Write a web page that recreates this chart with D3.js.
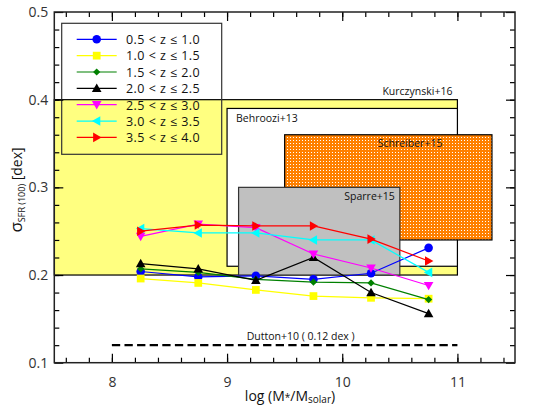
<!DOCTYPE html>
<html><head><meta charset="utf-8">
<script src="https://cdn.jsdelivr.net/npm/d3@7"></script>
<style>body{margin:0;background:#fff;} svg{display:block;font-family:"Open Sans",sans-serif;}</style>
</head><body><svg id="c" width="556" height="418"></svg>
<script>
// ---- data ----
const masses = [8.25, 8.75, 9.25, 9.75, 10.25, 10.75];
const seriesNames = ["0.5 < z \u2264 1.0","1.0 < z \u2264 1.5","1.5 < z \u2264 2.0","2.0 < z \u2264 2.5","2.5 < z \u2264 3.0","3.0 < z \u2264 3.5","3.5 < z \u2264 4.0"];
const z05_10 = [0.204, 0.198, 0.199, 0.195, 0.202, 0.231];
const z10_15 = [0.196, 0.191, 0.183, 0.176, 0.174, 0.173];
const z15_20 = [0.207, 0.203, 0.195, 0.192, 0.191, 0.172];
const z20_25 = [0.213, 0.207, 0.194, 0.220, 0.180, 0.156];
const z25_30 = [0.244, 0.258, 0.254, 0.224, 0.208, 0.188];
const z30_35 = [0.253, 0.248, 0.248, 0.240, 0.240, 0.203];
const z35_40 = [0.250, 0.257, 0.256, 0.256, 0.241, 0.216];
const seriesValues = [z05_10, z10_15, z15_20, z20_25, z25_30, z30_35, z35_40];
const seriesColors = ["#0000ff","#ffff00","#008000","#000000","#ff00ff","#00ffff","#ff0000"];
const seriesMarkers = ["circle","square","diamond","up","down","left","right"];

const boxNames = ["Kurczynski+16","Behroozi+13","Schreiber+15","Sparre+15"];
const boxXmin = [7.5, 9.0, 9.5, 9.1];
const boxXmax = [11.0, 11.0, 11.3, 10.5];
const boxYmin = [0.20, 0.21, 0.24, 0.20];
const boxYmax = [0.40, 0.39, 0.36, 0.30];

const duttonName = "Dutton+10 ( 0.12 dex )";
const duttonValue = 0.12;
const duttonRange = [8, 11];

const xMajorTicks = [8, 9, 10, 11];
const yMajorTicks = [0.1, 0.2, 0.3, 0.4, 0.5];

// ---- layout ----
const L = 54.3, R = 515, T = 12, B = 362.7;
const x = d3.scaleLinear().domain([7.5, 11.5]).range([L, R]);
const y = d3.scaleLinear().domain([0.1, 0.5]).range([B, T]);
const svg = d3.select("#c");

// pattern for Schreiber
const defs = svg.append("defs");
const pat = defs.append("pattern").attr("id","dots").attr("patternUnits","userSpaceOnUse")
  .attr("width",3).attr("height",3);
pat.append("rect").attr("x",0).attr("y",0).attr("width",3).attr("height",2).attr("fill","#ff8000");
pat.append("rect").attr("x",0).attr("y",2).attr("width",2).attr("height",1).attr("fill","#ff8000");

const boxFills = ["#ffff80","#ffffff","url(#dots)","#c0c0c0"];
const boxStroke = ["#000","#000","#000","#333"];
const g = svg.append("g");
boxNames.forEach((n,i)=>{
  g.append("rect")
    .attr("x", x(boxXmin[i])).attr("y", y(boxYmax[i]))
    .attr("width", x(boxXmax[i]) - x(boxXmin[i]))
    .attr("height", y(boxYmin[i]) - y(boxYmax[i]))
    .attr("fill", boxFills[i]).attr("stroke", boxStroke[i]).attr("stroke-width", 1.2);
});
// box labels
const lab = (t, xx, yy, anchor) => g.append("text").attr("x",xx).attr("y",yy)
  .attr("text-anchor",anchor).attr("font-size",10.5).attr("fill","#111").text(t);
lab(boxNames[0], x(boxXmax[0]) - 5, y(boxYmax[0]) - 5, "end");
lab(boxNames[1], x(boxXmin[1]) + 9, y(boxYmax[1]) + 14, "start");
lab(boxNames[2], x(boxXmax[1]) - 15, y(boxYmax[2]) + 12, "end");
lab(boxNames[3], x(boxXmax[3]) - 5, y(boxYmax[3]) + 13, "end");

// Dutton line
g.append("line").attr("x1", x(duttonRange[0])).attr("x2", x(duttonRange[1]))
  .attr("y1", y(duttonValue)).attr("y2", y(duttonValue))
  .attr("stroke","#000").attr("stroke-width",2.2).attr("stroke-dasharray","8.3,4.3");
lab(duttonName, (x(duttonRange[0]) + x(duttonRange[1]))/2 + 16, y(duttonValue) - 5, "middle");

// markers
function markerPath(type){
  switch(type){
    case "circle": return d3.symbol(d3.symbolCircle, 58)();
    case "square": return d3.symbol(d3.symbolSquare, 60)();
    case "diamond": { const r=3.6; return `M0,${-r}L${r},0L0,${r}L${-r},0Z`; }
    case "up": { const r=4.8; return `M0,${-r}L${r},${r*0.75}L${-r},${r*0.75}Z`; }
    case "down": { const r=4.8; return `M0,${r}L${r},${-r*0.75}L${-r},${-r*0.75}Z`; }
    case "left": { const r=4.8; return `M${-r},0L${r*0.75},${-r}L${r*0.75},${r}Z`; }
    case "right": { const r=4.8; return `M${r},0L${-r*0.75},${-r}L${-r*0.75},${r}Z`; }
  }
}
const line = d3.line().x((d,i)=>x(masses[i])).y(d=>y(d));
seriesValues.forEach((vals,k)=>{
  g.append("path").attr("d", line(vals)).attr("fill","none")
    .attr("stroke", seriesColors[k]).attr("stroke-width",1.2);
  g.selectAll(null).data(vals).enter().append("path")
    .attr("d", markerPath(seriesMarkers[k]))
    .attr("transform",(d,i)=>`translate(${x(masses[i])},${y(d)})`)
    .attr("fill", seriesColors[k]);
});

// legend
const lg = svg.append("g");
lg.append("rect").attr("x",61.7).attr("y",23.3).attr("width",160).attr("height",131)
  .attr("fill","none").attr("stroke","#333").attr("stroke-width",1.2);
seriesNames.forEach((n,k)=>{
  const yy = 39.3 + k*16.35;
  lg.append("line").attr("x1",76.7).attr("x2",116.7).attr("y1",yy).attr("y2",yy)
    .attr("stroke",seriesColors[k]).attr("stroke-width",1.2);
  lg.append("path").attr("d",markerPath(seriesMarkers[k])).attr("transform",`translate(96.7,${yy})`)
    .attr("fill",seriesColors[k]);
  lg.append("text").attr("x",126).attr("y",yy+4.8).attr("font-size",12.5)
    .attr("letter-spacing",0.45).attr("fill","#111").text(n);
});

// axes
const ax = svg.append("g");
const xMinor = d3.range(7.6, 11.5, 0.2).map(v=>+v.toFixed(1));
const yMinor = d3.range(0.12, 0.5, 0.02).map(v=>+v.toFixed(2));
function styl(sel){ sel.select(".domain").remove(); sel.selectAll("line").attr("stroke","#000").attr("stroke-width",1.2);
  sel.selectAll("text").attr("font-size",14).attr("fill","#333").attr("font-family","'Open Sans',sans-serif");
  sel.selectAll("text").filter(function(){ return this.textContent === ""; }).remove(); }
ax.append("g").attr("transform",`translate(0,${B})`).call(d3.axisBottom(x).tickValues(xMinor).tickSize(-5).tickFormat("")).call(styl);
ax.append("g").attr("transform",`translate(0,${B})`).call(d3.axisBottom(x).tickValues(xMajorTicks).tickSize(-9).tickPadding(14).tickFormat(d3.format("d"))).call(styl);
ax.append("g").attr("transform",`translate(0,${T})`).call(d3.axisTop(x).tickValues(xMinor).tickSize(-5).tickFormat("")).call(styl);
ax.append("g").attr("transform",`translate(0,${T})`).call(d3.axisTop(x).tickValues(xMajorTicks).tickSize(-9).tickFormat("")).call(styl);
ax.append("g").attr("transform",`translate(${L},0)`).call(d3.axisLeft(y).tickValues(yMinor).tickSize(-5).tickFormat("")).call(styl);
ax.append("g").attr("transform",`translate(${L},0)`).call(d3.axisLeft(y).tickValues(yMajorTicks).tickSize(-9).tickPadding(6).tickFormat(d3.format(".1f"))).call(styl);
ax.append("g").attr("transform",`translate(${R},0)`).call(d3.axisRight(y).tickValues(yMinor).tickSize(-5).tickFormat("")).call(styl);
ax.append("g").attr("transform",`translate(${R},0)`).call(d3.axisRight(y).tickValues(yMajorTicks).tickSize(-9).tickFormat("")).call(styl);
ax.append("rect").attr("x",L).attr("y",T).attr("width",R-L).attr("height",B-T)
  .attr("fill","none").attr("stroke","#222").attr("stroke-width",1.5);

// axis titles
const xt = svg.append("text").attr("x",290).attr("y",401).attr("text-anchor","middle")
  .attr("font-size",14).attr("fill","#111");
xt.append("tspan").text("log (M");
xt.append("tspan").attr("font-size",10).text("*");
xt.append("tspan").text("/M");
xt.append("tspan").attr("font-size",10).attr("dy",2).text("solar");
xt.append("tspan").attr("dy",-2).text(")");

const yt = svg.append("text").attr("transform","translate(22,190) rotate(-90)").attr("text-anchor","middle")
  .attr("font-size",14).attr("fill","#111");
yt.append("tspan").attr("font-size",17).text("\u03c3");
yt.append("tspan").attr("font-size",9).attr("dy",3).text("SFR (100)");
yt.append("tspan").attr("dy",-3).text(" [dex]");
</script></body></html>
